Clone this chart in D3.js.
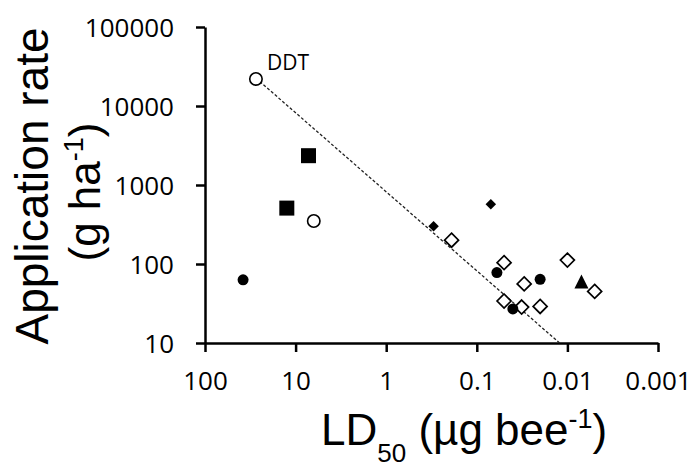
<!DOCTYPE html>
<html>
<head>
<meta charset="utf-8">
<script src="https://cdn.jsdelivr.net/npm/d3@7"></script>
<style>
  body { margin: 0; background: #fff; }
  svg { display: block; }
</style>
</head>
<body>
<div id="chart"></div>
<script>
// LD50 (ug per bee) against application rate (g per ha), one pair of arrays per marker type
const openCircleLD50 = [27.4, 6.3];
const openCircleRate = [22000, 350];
const squareLD50 = [7.2, 12.5];
const squareRate = [2350, 510];
const dotLD50 = [38, 0.06, 0.02, 0.04];
const dotRate = [63, 78, 64, 27];
const smallDiamondLD50 = [0.30, 0.07];
const smallDiamondRate = [300, 570];
const openDiamondLD50 = [0.19, 0.05, 0.03, 0.01, 0.005, 0.05, 0.032, 0.02];
const openDiamondRate = [200, 104, 56, 112, 45, 34, 28.5, 29];
const triangleLD50 = [0.007];
const triangleRate = [60];
// dotted trend line, from DDT down to the x axis
const trendLD50 = [27.4, 0.0122];
const trendRate = [22500, 10];

const xTicks = [100, 10, 1, 0.1, 0.01, 0.001];
const xTickLabels = ["100", "10", "1", "0.1", "0.01", "0.001"];
const yTicks = [10, 100, 1000, 10000, 100000];
const yTickLabels = ["10", "100", "1000", "10000", "100000"];
const pointLabel = "DDT";

const W = 694, H = 470;
const margin = {top: 27, right: 36, bottom: 127, left: 205};

const svg = d3.select("#chart").append("svg")
    .attr("width", W)
    .attr("height", H);

// x runs from high LD50 to low LD50
const x = d3.scaleLog().domain([100, 0.001]).range([margin.left, W - margin.right]);
const y = d3.scaleLog().domain([10, 100000]).range([H - margin.bottom, margin.top]);

const zip = (a, b) => a.map((v, i) => [v, b[i]]);

// axes
const xAxis = svg.append("g")
    .attr("transform", "translate(0," + y(10) + ")")
    .call(d3.axisBottom(x)
        .tickValues(xTicks)
        .tickFormat((d, i) => xTickLabels[i])
        .tickSize(9)
        .tickSizeOuter(0)
        .tickPadding(20));

const yAxis = svg.append("g")
    .attr("transform", "translate(" + x(100) + ",0)")
    .call(d3.axisLeft(y)
        .tickValues(yTicks)
        .tickFormat((d, i) => yTickLabels[i])
        .tickSize(9)
        .tickSizeOuter(0)
        .tickPadding(22));

[xAxis, yAxis].forEach(function(g) {
    g.selectAll("path, line").attr("stroke", "#000").attr("stroke-width", 2.5);
    g.selectAll("text")
        .attr("fill", "#000")
        .style("font-family", "'Open Sans', 'Noto Sans', sans-serif")
        .style("font-size", "26px");
});
yAxis.selectAll("text").attr("dy", "0.36em");

// trend line
svg.append("path")
    .datum(zip(trendLD50, trendRate))
    .attr("fill", "none")
    .attr("stroke", "#222")
    .attr("stroke-width", 1.3)
    .attr("stroke-dasharray", "3,2")
    .attr("d", d3.line().x(d => x(d[0])).y(d => y(d[1])));

// marker shapes
const diamond = {
    draw(ctx, size) {
        const r = Math.sqrt(size / 2);
        ctx.moveTo(0, -r); ctx.lineTo(r, 0); ctx.lineTo(0, r); ctx.lineTo(-r, 0); ctx.closePath();
    }
};
const triangle = {
    draw(ctx, size) {
        const h = Math.sqrt(size / 2);
        ctx.moveTo(0, -h); ctx.lineTo(h, h); ctx.lineTo(-h, h); ctx.closePath();
    }
};

function drawSymbols(ld, rate, type, size, fill, strokeW) {
    svg.append("g").selectAll("path")
        .data(zip(ld, rate))
        .enter().append("path")
        .attr("transform", d => "translate(" + x(d[0]) + "," + y(d[1]) + ")")
        .attr("d", d3.symbol().type(type).size(size))
        .attr("fill", fill)
        .attr("stroke", "#000")
        .attr("stroke-width", strokeW);
}

function drawCircles(ld, rate, r, fill, strokeW) {
    svg.append("g").selectAll("circle")
        .data(zip(ld, rate))
        .enter().append("circle")
        .attr("cx", d => x(d[0]))
        .attr("cy", d => y(d[1]))
        .attr("r", r)
        .attr("fill", fill)
        .attr("stroke", "#000")
        .attr("stroke-width", strokeW);
}

drawSymbols(openDiamondLD50, openDiamondRate, diamond, 98, "#fff", 1.7);
drawSymbols(smallDiamondLD50, smallDiamondRate, diamond, 55, "#000", 0);
drawCircles(dotLD50, dotRate, 5.5, "#000", 0);
drawCircles(openCircleLD50, openCircleRate, 6.2, "#fff", 1.6);
drawSymbols(squareLD50, squareRate, d3.symbolSquare, 225, "#000", 0);
drawSymbols(triangleLD50, triangleRate, triangle, 98, "#000", 0);

// DDT label
svg.append("text")
    .attr("x", x(openCircleLD50[0]) + 11)
    .attr("y", y(openCircleRate[0]) - 9)
    .style("font-family", "'Open Sans', 'Noto Sans', sans-serif")
    .style("font-size", "21px")
    .text(pointLabel);

// axis titles
const titleFont = "'Liberation Sans', Arial, sans-serif";

svg.append("text")
    .attr("transform", "rotate(-90)")
    .style("font-family", titleFont)
    .style("font-size", "46px")
    .attr("text-anchor", "middle")
    .attr("x", -186)
    .attr("y", 48)
    .text("Application rate");

const yt2 = svg.append("text")
    .attr("transform", "rotate(-90)")
    .style("font-family", titleFont)
    .style("font-size", "44px")
    .attr("text-anchor", "middle")
    .attr("x", -192)
    .attr("y", 100);
yt2.append("tspan").text("(g ha");
yt2.append("tspan").style("font-size", "27px").attr("dy", -17).text("-1");
yt2.append("tspan").attr("dy", 17).text(")");

// subscript kept just inside the bottom edge
const xt = svg.append("text")
    .style("font-family", titleFont)
    .style("font-size", "44px")
    .attr("x", 321)
    .attr("y", 445);
xt.append("tspan").text("LD");
xt.append("tspan").style("font-size", "26px").attr("dy", 17).text("50");
xt.append("tspan").attr("dy", -17).text(" (\u00b5g bee");
xt.append("tspan").style("font-size", "27px").attr("dy", -17).text("-1");
xt.append("tspan").attr("dy", 17).text(")");
</script>
</body>
</html>
